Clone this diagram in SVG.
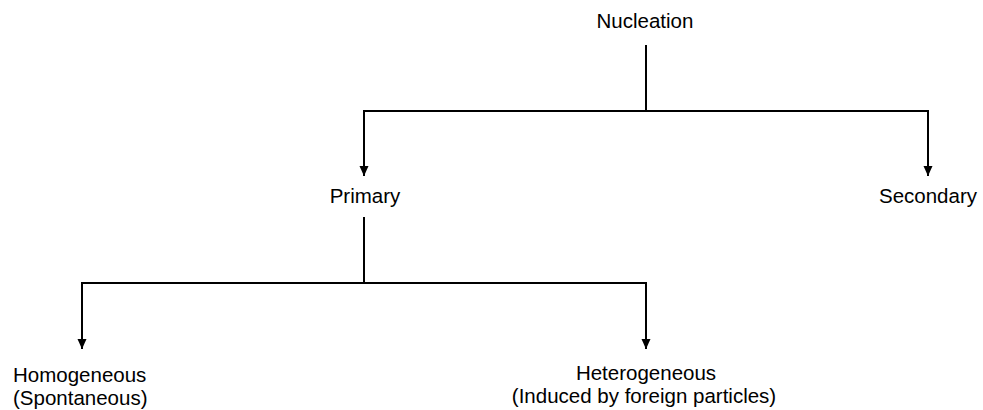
<svg xmlns="http://www.w3.org/2000/svg" width="983" height="410" viewBox="0 0 983 410">
<style>
text{font-family:"Liberation Sans",Arial,sans-serif;font-size:20.5px;fill:#000;text-anchor:middle}
.c{fill:none;stroke:#000;stroke-width:2}
</style>
<defs>
<marker id="ah" markerUnits="userSpaceOnUse" markerWidth="11" markerHeight="10" refX="10" refY="4.5" orient="auto">
<path d="M0,0 L10,4.5 L0,9 Z" fill="#000"/>
</marker>
</defs>
<rect width="983" height="410" fill="#fff"/>
<g id="connectors">
<line class="c" x1="646" y1="45" x2="646" y2="111"/>
<line class="c" x1="363" y1="111" x2="929" y2="111"/>
<line class="c" x1="364" y1="110" x2="364" y2="176" marker-end="url(#ah)"/>
<line class="c" x1="928" y1="110" x2="928" y2="176" marker-end="url(#ah)"/>
<line class="c" x1="364" y1="217" x2="364" y2="283"/>
<line class="c" x1="81" y1="283" x2="647" y2="283"/>
<line class="c" x1="82" y1="282" x2="82" y2="349" marker-end="url(#ah)"/>
<line class="c" x1="646" y1="282" x2="646" y2="349" marker-end="url(#ah)"/>
</g>
<g id="nucleation"><text x="645" y="28">Nucleation</text></g>
<g id="primary"><text x="365" y="203">Primary</text></g>
<g id="secondary"><text x="928" y="203">Secondary</text></g>
<g id="homogeneous"><text x="13" y="382" style="text-anchor:start">Homogeneous</text><text x="13" y="405" style="text-anchor:start">(Spontaneous)</text></g>
<g id="heterogeneous"><text x="646" y="380">Heterogeneous</text><text x="644" y="403">(Induced by foreign particles)</text></g>
</svg>
